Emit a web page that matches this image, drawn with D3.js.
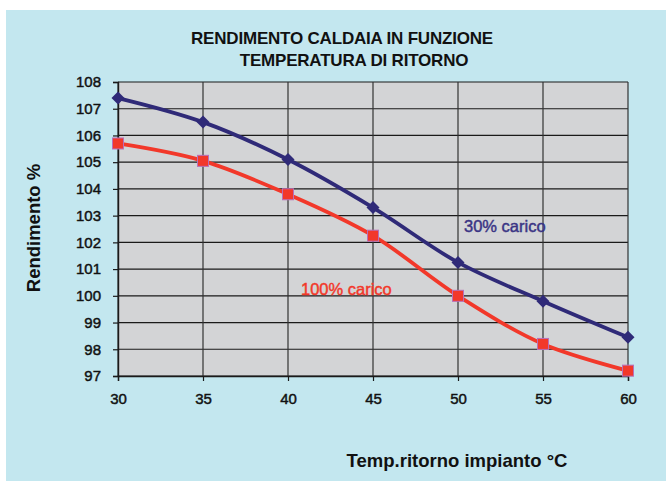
<!DOCTYPE html>
<html>
<head>
<meta charset="utf-8">
<script src="https://cdn.jsdelivr.net/npm/d3@7/dist/d3.min.js"></script>
<style>
  html, body { margin: 0; padding: 0; background: #ffffff; }
  svg { display: block; }
  text { font-family: "Liberation Sans", Arial, sans-serif; }
</style>
</head>
<body>
<script>
// Return temperature (°C) on the x axis
const temperatures = [30, 35, 40, 45, 50, 55, 60];
// Boiler efficiency (%) at 30% and 100% load
const carico30 = [107.4, 106.5, 105.1, 103.3, 101.25, 99.8, 98.45];
const carico100 = [105.7, 105.05, 103.8, 102.25, 100.0, 98.2, 97.2];
const yTicks = [97, 98, 99, 100, 101, 102, 103, 104, 105, 106, 107, 108];
const xTicks = [30, 35, 40, 45, 50, 55, 60];

const W = 666, H = 481;
const svg = d3.select("body").append("svg").attr("width", W).attr("height", H);

// light blue chart panel
svg.append("rect").attr("x", 6).attr("y", 10).attr("width", W - 6).attr("height", H - 10)
  .attr("fill", "#c3e7ef");

const plot = { left: 118, right: 628, top: 82, bottom: 376 };
const x = d3.scaleLinear().domain([30, 60]).range([plot.left, plot.right]);
const y = d3.scaleLinear().domain([97, 108]).range([plot.bottom, plot.top]);

// grey plot area
svg.append("rect").attr("x", plot.left).attr("y", plot.top)
  .attr("width", plot.right - plot.left).attr("height", plot.bottom - plot.top)
  .attr("fill", "#d3d4d6");

// grid lines
const grid = svg.append("g");
grid.selectAll("line.h").data(yTicks).join("line")
  .attr("x1", plot.left).attr("x2", plot.right)
  .attr("y1", d => y(d)).attr("y2", d => y(d))
  .attr("stroke", "#1a1a1a").attr("stroke-width", 1.2);
grid.selectAll("line.v").data(xTicks).join("line")
  .attr("x1", d => x(d)).attr("x2", d => x(d))
  .attr("y1", plot.top).attr("y2", plot.bottom)
  .attr("stroke", "#333333").attr("stroke-width", 1.2);

// axes
const yAxis = svg.append("g").attr("transform", `translate(${plot.left},0)`)
  .call(d3.axisLeft(y).tickValues(yTicks).tickSize(5).tickPadding(12).tickFormat(d3.format("d")));
const xAxis = svg.append("g").attr("transform", `translate(0,${plot.bottom})`)
  .call(d3.axisBottom(x).tickValues(xTicks).tickSize(5).tickPadding(12).tickFormat(d3.format("d")));
[yAxis, xAxis].forEach(a => {
  a.select(".domain").attr("stroke", "#1a1a1a").attr("stroke-width", 1.4);
  a.selectAll(".tick line").attr("stroke", "#1a1a1a").attr("stroke-width", 1.2);
  a.selectAll("text").attr("fill", "#111").style("font-size", "15px")
    .attr("stroke", "#111").attr("stroke-width", 0.45)
    .style("font-family", "'Liberation Sans', Arial, sans-serif");
});

// smoothed series lines
const line = d3.line().x((d, i) => x(temperatures[i])).y(d => y(d))
  .curve(d3.curveCatmullRom.alpha(0.5));

svg.append("path").datum(carico30).attr("d", line)
  .attr("fill", "none").attr("stroke", "#2f2a78").attr("stroke-width", 3.8);
svg.append("path").datum(carico100).attr("d", line)
  .attr("fill", "none").attr("stroke", "#f2382a").attr("stroke-width", 3.8);

// diamond markers
svg.append("g").selectAll("path").data(carico30).join("path")
  .attr("transform", (d, i) => `translate(${x(temperatures[i])},${y(d)})`)
  .attr("d", "M0,-6.5L6.5,0L0,6.5L-6.5,0Z")
  .attr("fill", "#2f2a78");

// square markers
svg.append("g").selectAll("rect").data(carico100).join("rect")
  .attr("x", (d, i) => x(temperatures[i]) - 5.5).attr("y", d => y(d) - 5.5)
  .attr("width", 11).attr("height", 11)
  .attr("fill", "#f2382a").attr("stroke", "#b86fb8").attr("stroke-width", 1);

// title
const title = svg.append("text").attr("text-anchor", "middle")
  .attr("fill", "#111").style("font-size", "17px").style("font-weight", "bold")
  .style("letter-spacing", "-0.2px");
title.append("tspan").attr("x", 342).attr("y", 44).text("RENDIMENTO CALDAIA IN FUNZIONE");
title.append("tspan").attr("x", 354).attr("y", 66).text("TEMPERATURA DI RITORNO");

// axis titles
svg.append("text").attr("x", 457).attr("y", 467).attr("text-anchor", "middle")
  .attr("fill", "#111").style("font-size", "18.5px").style("font-weight", "bold")
  .text("Temp.ritorno impianto °C");
svg.append("text").attr("transform", "translate(40,228) rotate(-90)").attr("text-anchor", "middle")
  .attr("fill", "#111").style("font-size", "18.5px").style("font-weight", "bold")
  .text("Rendimento %");

// series labels
svg.append("text").attr("x", 464).attr("y", 232).attr("fill", "#3a3485")
  .attr("stroke", "#3a3485").attr("stroke-width", 0.45)
  .style("font-size", "16.5px").text("30% carico");
svg.append("text").attr("x", 301).attr("y", 295).attr("fill", "#f2382a")
  .attr("stroke", "#f2382a").attr("stroke-width", 0.45)
  .style("font-size", "16.5px").text("100% carico");
</script>
</body>
</html>
